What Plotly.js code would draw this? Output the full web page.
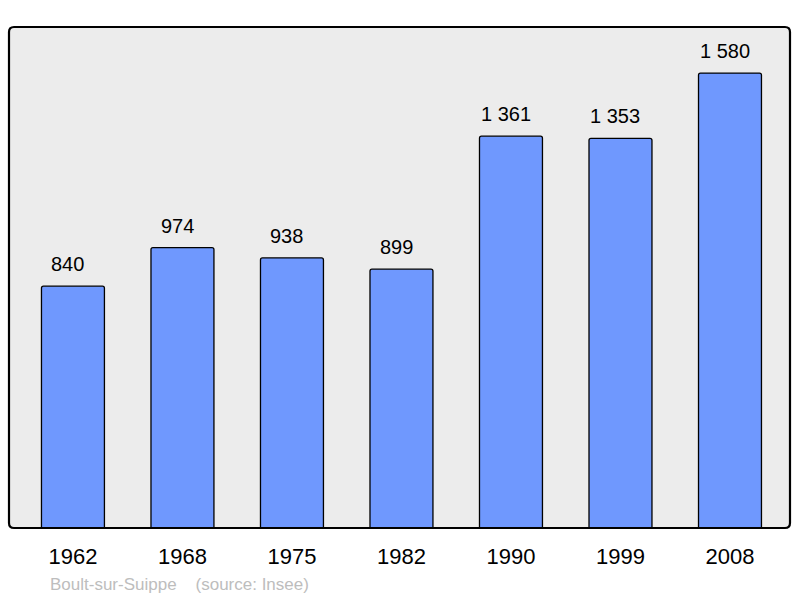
<!DOCTYPE html>
<html><head><meta charset="utf-8">
<script src="https://cdn.plot.ly/plotly-3.0.1.min.js"></script>
<style>body{margin:0;background:#fff}#c{width:800px;height:598px}</style>
</head><body><div id="c"></div>
<script>
const years = ['1962','1968','1975','1982','1990','1999','2008'];
const population = [840, 974, 938, 899, 1361, 1353, 1580];
const sourceText = 'Boult-sur-Suippe    (source: Insee)';

function fmt(v){ return String(v).replace(/\B(?=(\d{3})+(?!\d))/g, '\u00a0'); }

const trace = {
  type: 'bar', x: years, y: population,
  width: 0.575,
  marker: {color: '#6f98fe', line: {color: '#000', width: 1.3}, cornerradius: 2},
  hoverinfo: 'none'
};
const ann = years.map((yr, i) => ({
  x: i, y: population[i], xref: 'x', yref: 'y', text: fmt(population[i]),
  showarrow: false, yanchor: 'bottom', yshift: 9, xshift: -5,
  font: {size: 20, color: '#000', family: 'Liberation Sans, Arial, sans-serif'}
}));
ann.push({x: 48/781 - 9/781, y: -0.112, xref: 'paper', yref: 'paper', xanchor: 'left', yanchor: 'middle',
  text: sourceText.replace(/ /g, '\u00a0'), showarrow: false,
  font: {size: 17, color: '#bdbdbd', family: 'Liberation Sans, Arial, sans-serif'}});

const rx = 5/781, ry = 5/501;
const path = `M ${rx} 0 L ${1-rx} 0 Q 1 0 1 ${ry} L 1 ${1-ry} Q 1 1 ${1-rx} 1 L ${rx} 1 Q 0 1 0 ${1-ry} L 0 ${ry} Q 0 0 ${rx} 0 Z`;

const layout = {
  width: 800, height: 598,
  margin: {l: 9, r: 10, t: 27, b: 70},
  paper_bgcolor: '#fff', plot_bgcolor: '#ececec',
  showlegend: false,
  font: {family: 'Liberation Sans, Arial, sans-serif', color: '#000'},
  xaxis: {type: 'category', range: [-0.584, 6.548], showgrid: false, zeroline: false,
    ticks: 'outside', ticklen: 9, tickcolor: 'rgba(0,0,0,0)', tickfont: {size: 22, color: '#000'}, fixedrange: true},
  yaxis: {range: [0, 1740], showgrid: false, zeroline: false, showticklabels: false, ticks: '', fixedrange: true},
  annotations: ann,
  shapes: [{type: 'path', xref: 'paper', yref: 'paper', path: path, line: {color: '#000', width: 2.2}, layer: 'above'}]
};
Plotly.newPlot('c', [trace], layout, {displayModeBar: false, staticPlot: true});
</script></body></html>
